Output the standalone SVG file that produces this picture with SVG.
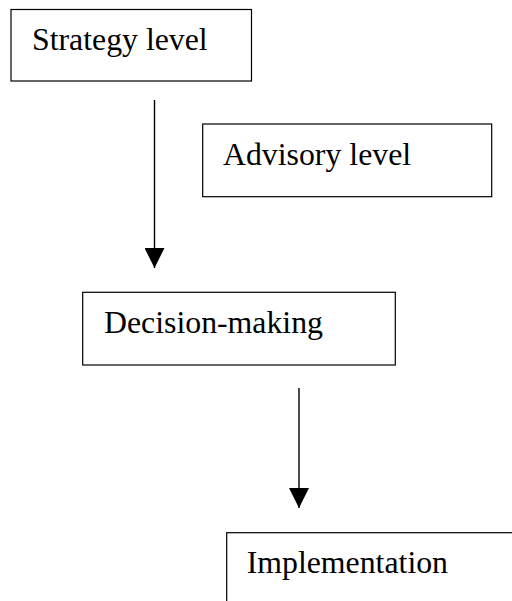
<svg xmlns="http://www.w3.org/2000/svg" width="512" height="601" viewBox="0 0 512 601">
<style>
.box{fill:#fff;stroke:#000;stroke-width:1.2}
.lbl{font-family:"Liberation Serif","Times New Roman",serif;font-size:31.8px;fill:#000}
.con{stroke:#000;stroke-width:1.4;fill:none}
</style>
<defs>
<marker id="ah" viewBox="0 0 20 20" refX="20" refY="10" markerWidth="20" markerHeight="20" markerUnits="userSpaceOnUse" orient="auto">
<path d="M0,0 L20,10 L0,20 Z" fill="#000"/>
</marker>
</defs>
<rect width="512" height="601" fill="#fff"/>
<g id="strategy">
<rect class="box" x="11" y="9.5" width="240.5" height="71.5"/>
<text class="lbl" x="32" y="50">Strategy level</text>
</g>
<g id="advisory">
<rect class="box" x="202.7" y="124" width="289" height="72.7"/>
<text class="lbl" x="223" y="165">Advisory level</text>
</g>
<g id="decision">
<rect class="box" x="82.7" y="292.3" width="312.6" height="72.7"/>
<text class="lbl" x="104" y="333">Decision-making</text>
</g>
<g id="implementation">
<rect class="box" x="226.7" y="532.7" width="300" height="80"/>
<text class="lbl" x="246.7" y="573">Implementation</text>
</g>
<g id="connectors">
<line class="con" x1="154.5" y1="100" x2="154.5" y2="268" marker-end="url(#ah)"/>
<line class="con" x1="299" y1="388" x2="299" y2="508" marker-end="url(#ah)"/>
</g>
</svg>
